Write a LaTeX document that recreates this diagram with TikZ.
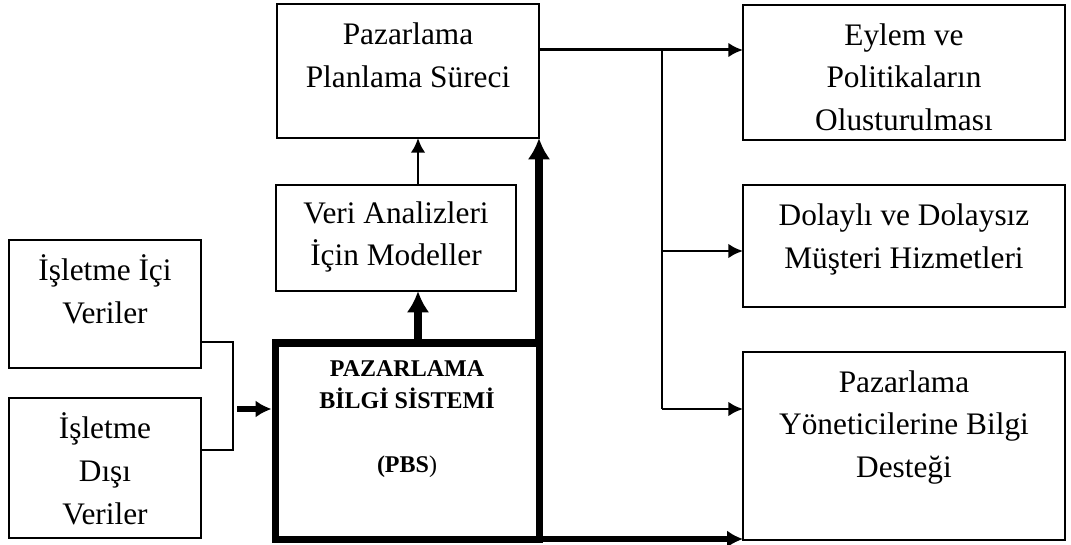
\documentclass[tikz,border=0pt]{standalone}
\usepackage{fontspec}
\setmainfont{Liberation Serif}
\usetikzlibrary{positioning, arrows.meta}

\begin{document}
\begin{tikzpicture}[
		x=0.75pt, y=-0.75pt,
		box/.style={draw, rectangle, line width=1.5pt, inner sep=0pt, outer sep=0pt},
		txt/.style={align=center, inner sep=0pt, font=\fontsize{23.5}{32}\selectfont},
		arr/.style={-{Latex[length=11pt, width=11pt]}, line width=2pt},
		link/.style={line width=1.5pt},
		fatarr/.style={-{Latex[length=16pt, width=17pt]}, line width=6pt},
		midarr/.style={-{Latex[length=12pt, width=13pt]}, line width=4.5pt}
		]
		\useasboundingbox (0,0) rectangle (1071,545);
		
		% 1. Boxes
		\node[box, minimum width=196.5pt, minimum height=100.5pt] (plan) at (408,71) {};
		\node[box, minimum width=180pt, minimum height=79.5pt] (veri) at (396,238) {};
		\node[box, minimum width=144pt, minimum height=96pt] (ici) at (105,304) {};
		\node[box, minimum width=144pt, minimum height=105pt] (disi) at (105,468) {};
		\node[box, line width=5.25pt, minimum width=198pt, minimum height=147pt] (pbs) at (407,441) {};
		\node[box, minimum width=241.5pt, minimum height=101.25pt] (eylem) at (904,72.5) {};
		\node[box, minimum width=241.5pt, minimum height=91.5pt] (dolayli) at (904,246) {};
		\node[box, minimum width=241.5pt, minimum height=141pt] (yonet) at (904,446) {};
		
		% 2. Texts
		\node[txt, below=8pt of plan.north] (plantxt) {\strut Pazarlama\\Planlama Süreci};
		\node[txt, below=6pt of veri.north] (veritxt) {\strut Veri Analizleri\\İçin Modeller};
		\node[txt, below=8pt of ici.north] (icitxt) {\strut İşletme İçi\\Veriler};
		\node[txt, below=8pt of disi.north] (disitxt) {\strut İşletme\\Dışı\\Veriler};
		\node[txt, font=\bfseries\fontsize{18}{24}\selectfont, below=8.4pt of pbs.north] (pbstxt)
			{\strut PAZARLAMA\\BİLGİ SİSTEMİ\\[24pt](PBS\textmd{)}};
		\node[txt, below=7.5pt of eylem.north] (eylemtxt) {\strut Eylem ve\\Politikaların\\Olusturulması};
		\node[txt, below=8pt of dolayli.north] (dolaylitxt) {\strut Dolaylı ve Dolaysız\\Müşteri Hizmetleri};
		\node[txt, below=7.5pt of yonet.north] (yonettxt) {\strut Pazarlama\\Yöneticilerine Bilgi\\Desteği};
		
		% 3. Inputs into the system
		\coordinate (j1) at (233,342);
		\coordinate (j2) at (233,450);
		\coordinate (jin) at (237,409);
		\draw[link] (ici.east |- j1) -- (j1) -- (j2) -- (disi.east |- j2);
		\draw[midarr, shorten >=2.6pt] (jin) -- (pbs.west |- jin);
		
		% 4. System upwards
		\coordinate (mid) at (418,316);
		\draw[fatarr] (pbs.north -| mid) -- (veri.south -| mid);
		\draw[arr] (veri.north -| mid) -- (plan.south -| mid);
		\draw[fatarr] (pbs.north east) -- (pbs.north east |- plan.south);
		\draw[midarr] (pbs.south east) -- (pbs.south east -| yonet.west);
		
		% 5. Outputs
		\coordinate (b1) at (662,50);
		\coordinate (b2) at (662,251);
		\coordinate (b3) at (662,409);
		\draw[arr, line width=2.25pt] (plan.east |- b1) -- (eylem.west |- b1);
		\draw[link] (b1) -- (b3);
		\draw[arr] (b2) -- (dolayli.west |- b2);
		\draw[arr] (b3) -- (yonet.west |- b3);
		
	\end{tikzpicture}
\end{document}
